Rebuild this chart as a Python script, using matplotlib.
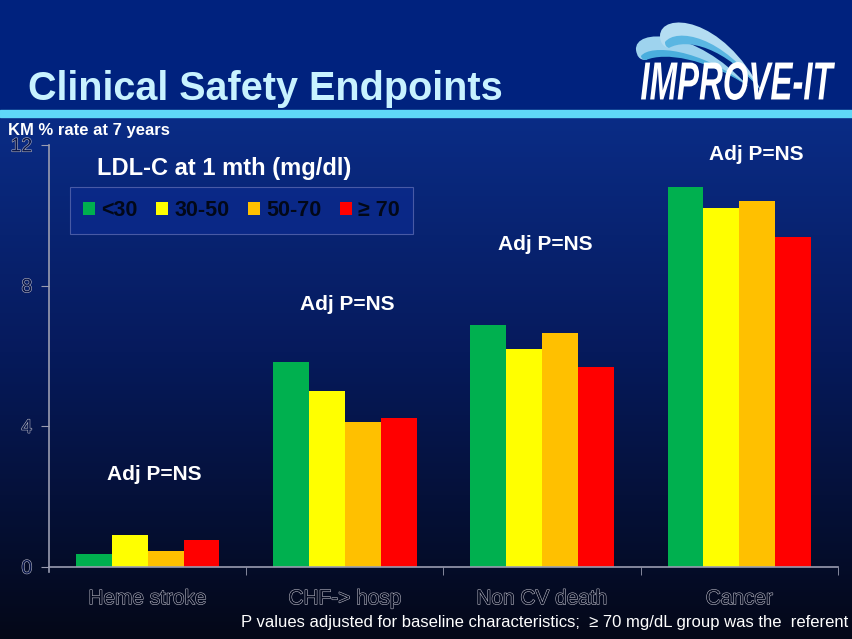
import numpy as np
import matplotlib
matplotlib.use("Agg")
import matplotlib.pyplot as plt
import matplotlib.patheffects as pe
from matplotlib.patches import Rectangle, PathPatch
from matplotlib.path import Path
from matplotlib.colors import LinearSegmentedColormap
from matplotlib.textpath import TextPath
from matplotlib.font_manager import FontProperties
from matplotlib.transforms import Affine2D

# ---- data ----
categories = ["Heme stroke", "CHF-> hosp", "Non CV death", "Cancer"]
series_names = ["<30", "30-50", "50-70", "\u2265 70"]
series_colors = ["#00B04F", "#FFFF00", "#FFC000", "#FF0000"]
vals_lt30 = [0.38, 5.82, 6.87, 10.81]
vals_30_50 = [0.92, 5.01, 6.19, 10.22]
vals_50_70 = [0.45, 4.11, 6.64, 10.41]
vals_ge70 = [0.77, 4.24, 5.70, 9.39]
series_values = [vals_lt30, vals_30_50, vals_50_70, vals_ge70]
pvalue_labels = ["Adj P=NS", "Adj P=NS", "Adj P=NS", "Adj P=NS"]
yticks = [0, 4, 8, 12]

plt.rcParams['font.family'] = ['Liberation Sans', 'DejaVu Sans']

W, H = 853, 639
fig = plt.figure(figsize=(W / 100, H / 100), dpi=100)

def fx(px):
    return px / W

def fy(py):
    return 1 - py / H

# ---- background ----
bg = fig.add_axes([0, 0, 1, 1], zorder=-10)
bg.set_axis_off()
cmap = LinearSegmentedColormap.from_list(
    "bg", [(0.0, "#0A2C86"), (0.45, "#061A5C"), (1.0, "#040818")])
grad = np.linspace(0, 1, 256).reshape(-1, 1)
bg.imshow(grad, aspect="auto", cmap=cmap, extent=[0, 1, 0, fy(117)], origin="upper")
bg.add_patch(Rectangle((0, fy(110)), 1, 1, color="#00227E", transform=bg.transAxes))
bg.add_patch(Rectangle((0, fy(117)), 1, 7 / H, color="#5FD8F8", transform=bg.transAxes))
bg.set_xlim(0, 1)
bg.set_ylim(0, 1)

# ---- title & logo ----
fig.text(fx(28), fy(100), "Clinical Safety Endpoints", color="#C8F2FF",
         fontsize=28.5, fontweight="bold", ha="left", va="baseline")

def closed_curve(pts, color):
    verts = [(fx(a), fy(b)) for a, b in pts]
    codes = [Path.MOVETO] + [Path.CURVE4] * (len(pts) - 1)
    p = PathPatch(Path(verts, codes), facecolor=color, edgecolor="none",
                  transform=fig.transFigure)
    fig.add_artist(p)

# swoosh 1 (left/lower)
closed_curve([(636, 50), (634, 28), (695, 28), (748, 86),
              (700, 52), (662, 46), (646, 60),
              (639, 60), (637, 56), (636, 50)], "#9ED3EE")
closed_curve([(641, 56), (650, 44), (700, 48), (748, 86),
              (705, 58), (665, 52), (646, 60),
              (643, 60), (641, 58), (641, 56)], "#4AAEDD")
# swoosh 2 (right/upper)
closed_curve([(660, 36), (660, 12), (722, 14), (762, 92),
              (722, 40), (684, 34), (669, 48),
              (663, 47), (660, 42), (660, 36)], "#B4DDF2")
closed_curve([(665, 42), (676, 28), (722, 34), (762, 92),
              (725, 46), (686, 38), (669, 48),
              (666, 47), (665, 45), (665, 42)], "#5AB6E2")

tp = TextPath((0, 0), "IMPROVE-IT", size=10,
              prop=FontProperties(family="Liberation Sans", weight="bold", style="italic"))
ext = tp.get_extents()
sx = (fx(835) - fx(641)) / ext.width
sy = (fy(62) - fy(100)) / ext.height
tr = Affine2D().translate(-ext.x0, -ext.y0).scale(sx, sy).translate(fx(641), fy(100))
fig.add_artist(PathPatch(tr.transform_path(tp), facecolor="white", edgecolor="none",
                         transform=fig.transFigure))

fig.text(fx(8), fy(130), "KM % rate at 7 years", color="white", fontsize=12,
         fontweight="bold", ha="left", va="center")

# ---- main axes ----
ax = fig.add_axes([fx(49), fy(567), fx(838) - fx(49), (567 - 145) / H])
ax.set_facecolor("none")
n = len(series_values)
bw = 0.182
x = np.arange(len(categories))
handles = []
for i, (vals, col, name) in enumerate(zip(series_values, series_colors, series_names)):
    b = ax.bar(x + (i - (n - 1) / 2) * bw, vals, width=bw, color=col,
               edgecolor="none", label=name)
    handles.append(b)

ax.set_xlim(-0.5, len(categories) - 0.5)
ax.set_ylim(0, 12)
ax.set_yticks(yticks)
ax.set_xticks(x)
ax.set_xticklabels(categories)
ax.set_xticks(np.arange(len(categories)) + 0.5, minor=True)
for s in ["top", "right"]:
    ax.spines[s].set_visible(False)
for s in ["left", "bottom"]:
    ax.spines[s].set_color("#9A9CB0")
    ax.spines[s].set_linewidth(1.2)
ax.spines["left"].set_bounds(-0.15, 12)
ax.tick_params(axis="x", which="major", length=0, pad=16)
ax.tick_params(axis="x", which="minor", length=6, color="#9A9CB0", direction="out")
ax.tick_params(axis="y", length=6, color="#9A9CB0", pad=6)

outline = [pe.Stroke(linewidth=0.8, foreground="#B8B8C4"), pe.Normal()]
for t in ax.get_xticklabels():
    t.set_fontsize(15)
    t.set_color("#050A20")
    t.set_path_effects(outline)
for t in ax.get_yticklabels():
    t.set_fontsize(14)
    t.set_color("#081548")
    t.set_path_effects(outline)

# p-value labels
label_pos = [(154, 474), (347, 304), (545, 244), (756, 155)]
for (px, py), lab in zip(label_pos, pvalue_labels):
    fig.text(fx(px), fy(py), lab, color="white", fontsize=15,
             fontweight="bold", ha="center", va="center")

# legend
fig.text(fx(97), fy(168), "LDL-C at 1 mth (mg/dl)", color="white", fontsize=17,
         fontweight="bold", ha="left", va="center")
leg = ax.legend(handles=handles, labels=series_names, ncol=4,
                loc="upper left", bbox_to_anchor=(fx(70), fy(237), (413 - 70) / W, 50 / H),
                bbox_transform=fig.transFigure, mode="expand", borderaxespad=0,
                frameon=True, fancybox=False, handlelength=0.55, handleheight=0.55,
                handletextpad=0.3, columnspacing=1.0, borderpad=0.6,
                prop={"size": 15.5, "weight": "bold"})
leg.get_frame().set_facecolor("#0B2A8C")
leg.get_frame().set_edgecolor("#5868B0")
leg.get_frame().set_linewidth(0.8)
for t in leg.get_texts():
    t.set_color("#020818")

# footer
fig.text(fx(848), fy(622), "P values adjusted for baseline characteristics;  \u2265 70 mg/dL group was the  referent",
         color="white", fontsize=12, ha="right", va="center")

fig.savefig("out.png", dpi=100)
